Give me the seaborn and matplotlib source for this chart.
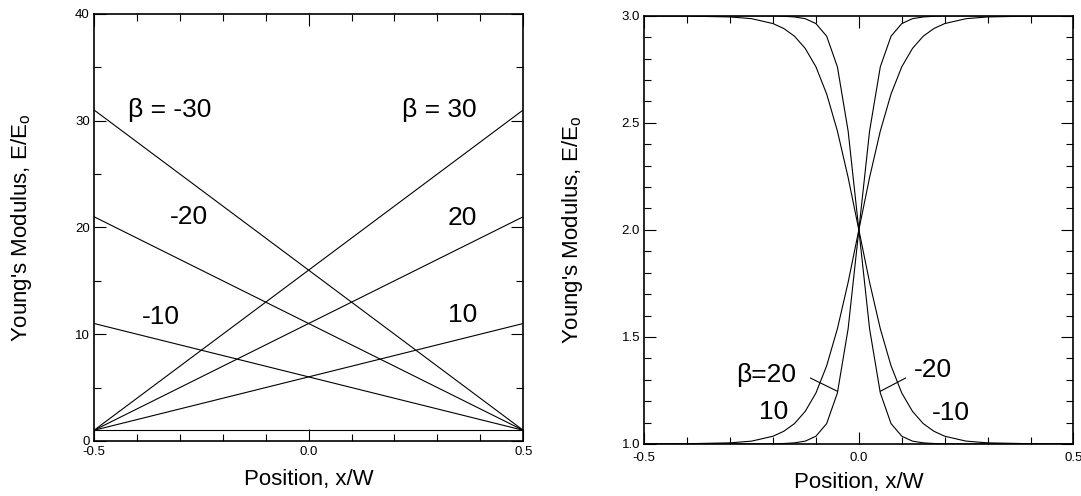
import numpy as np
import pandas as pd
import seaborn as sns
import matplotlib.pyplot as plt
from matplotlib.ticker import MultipleLocator, FormatStrFormatter

# Left panel: linear gradients, endpoints
lin_x = [-0.5, 0.5]
lin_beta = [30, 20, 10, 0, -10, -20, -30]
lin_E = {
    30: [1, 31],
    20: [1, 21],
    10: [1, 11],
    0: [1, 1],
    -10: [11, 1],
    -20: [21, 1],
    -30: [31, 1],
}

# Right panel: sigmoidal profiles
sig_x = [-0.5, -0.4, -0.3, -0.25, -0.2, -0.175, -0.15, -0.125, -0.1, -0.075,
         -0.05, -0.025, 0.0, 0.025, 0.05, 0.075, 0.1, 0.125, 0.15, 0.175,
         0.2, 0.25, 0.3, 0.4, 0.5]
sig_E_20 = [1.0, 1.0, 1.0, 1.0, 1.0, 1.002, 1.005, 1.013, 1.036, 1.095,
            1.238, 1.538, 2.0, 2.462, 2.762, 2.905, 2.964, 2.987, 2.995, 2.998,
            3.0, 3.0, 3.0, 3.0, 3.0]
sig_E_10 = [1.0, 1.001, 1.005, 1.013, 1.036, 1.059, 1.095, 1.152, 1.238, 1.365,
            1.538, 1.755, 2.0, 2.245, 2.462, 2.635, 2.762, 2.848, 2.905, 2.941,
            2.964, 2.987, 2.995, 2.999, 3.0]
sig_E_m10 = sig_E_10[::-1]
sig_E_m20 = sig_E_20[::-1]

# long-form tables for seaborn
lin_df = pd.DataFrame({
    'x': lin_x * len(lin_beta),
    'E': [v for b in lin_beta for v in lin_E[b]],
    'beta': [b for b in lin_beta for _ in lin_x],
})
sig_df = pd.DataFrame({
    'x': sig_x * 4,
    'E': sig_E_20 + sig_E_10 + sig_E_m10 + sig_E_m20,
    'beta': [20] * len(sig_x) + [10] * len(sig_x) + [-10] * len(sig_x) + [-20] * len(sig_x),
})

sns.set_style('ticks')
plt.rcParams['font.family'] = ['Liberation Sans', 'DejaVu Sans']
plt.rcParams['mathtext.default'] = 'regular'
plt.rcParams['text.color'] = 'black'
plt.rcParams['axes.labelcolor'] = 'black'

fig = plt.figure(figsize=(10.81, 4.96), dpi=100)
ax1 = fig.add_axes([0.087, 0.111, 0.397, 0.861])
ax2 = fig.add_axes([0.596, 0.105, 0.397, 0.863])

sns.lineplot(data=lin_df, x='x', y='E', units='beta', estimator=None,
             color='black', linewidth=0.8, ax=ax1, legend=False)
sns.lineplot(data=sig_df, x='x', y='E', units='beta', estimator=None,
             color='black', linewidth=0.8, ax=ax2, legend=False)

ax1.set_xlim(-0.5, 0.5)
ax1.set_ylim(0, 40)
ax1.yaxis.set_major_locator(MultipleLocator(10))
ax1.yaxis.set_minor_locator(MultipleLocator(5))
ax1.yaxis.set_major_formatter(FormatStrFormatter('%d'))

ax2.set_xlim(-0.5, 0.5)
ax2.set_ylim(1.0, 3.0)
ax2.yaxis.set_major_locator(MultipleLocator(0.5))
ax2.yaxis.set_minor_locator(MultipleLocator(0.1))
ax2.yaxis.set_major_formatter(FormatStrFormatter('%.1f'))

for ax in (ax1, ax2):
    ax.xaxis.set_major_locator(MultipleLocator(0.5))
    ax.xaxis.set_minor_locator(MultipleLocator(0.1))
    ax.xaxis.set_major_formatter(FormatStrFormatter('%.1f'))
    ax.tick_params(which='both', direction='in', top=True, right=True,
                   colors='black', labelcolor='black', labelsize=9.5)
    ax.tick_params(which='major', length=8.5, width=0.8)
    ax.tick_params(which='minor', length=5, width=0.8)
    ax.tick_params(axis='y', pad=3)
    for s in ax.spines.values():
        s.set_linewidth(1.2)
        s.set_color('black')
    ax.set_xlabel('Position, x/W', fontsize=16, va='center', color='black')
    ax.set_ylabel("Young's Modulus, E/E$_{o}$", fontsize=16, va='center', color='black')
    ax.yaxis.set_label_coords(-0.168, 0.5)
    ax.xaxis.set_label_coords(0.5, -0.091)

ax1.tick_params(axis='x', pad=4)
ax2.tick_params(axis='x', pad=6)

# left panel labels
fs = 19
ax1.text(-0.42, 31, '\u03b2 = -30', fontsize=fs, va='center', ha='left', color='black')
ax1.text(-0.323, 21, '-20', fontsize=fs, va='center', ha='left', color='black')
ax1.text(-0.388, 11.6, '-10', fontsize=fs, va='center', ha='left', color='black')
ax1.text(0.218, 31, '\u03b2 = 30', fontsize=fs, va='center', ha='left', color='black')
ax1.text(0.325, 20.9, '20', fontsize=fs, va='center', ha='left', color='black')
ax1.text(0.325, 11.8, '10', fontsize=fs, va='center', ha='left', color='black')

# right panel labels with leader lines
ax2.text(-0.287, 1.323, '\u03b2=20', fontsize=fs, va='center', ha='left', color='black')
ax2.text(-0.233, 1.149, '10', fontsize=fs, va='center', ha='left', color='black')
ax2.text(0.129, 1.347, '-20', fontsize=fs, va='center', ha='left', color='black')
ax2.text(0.169, 1.145, '-10', fontsize=fs, va='center', ha='left', color='black')
ax2.plot([-0.113, -0.05], [1.308, 1.246], color='black', linewidth=0.8)
ax2.plot([0.109, 0.05], [1.308, 1.246], color='black', linewidth=0.8)

fig.savefig('out.png', dpi=100)
